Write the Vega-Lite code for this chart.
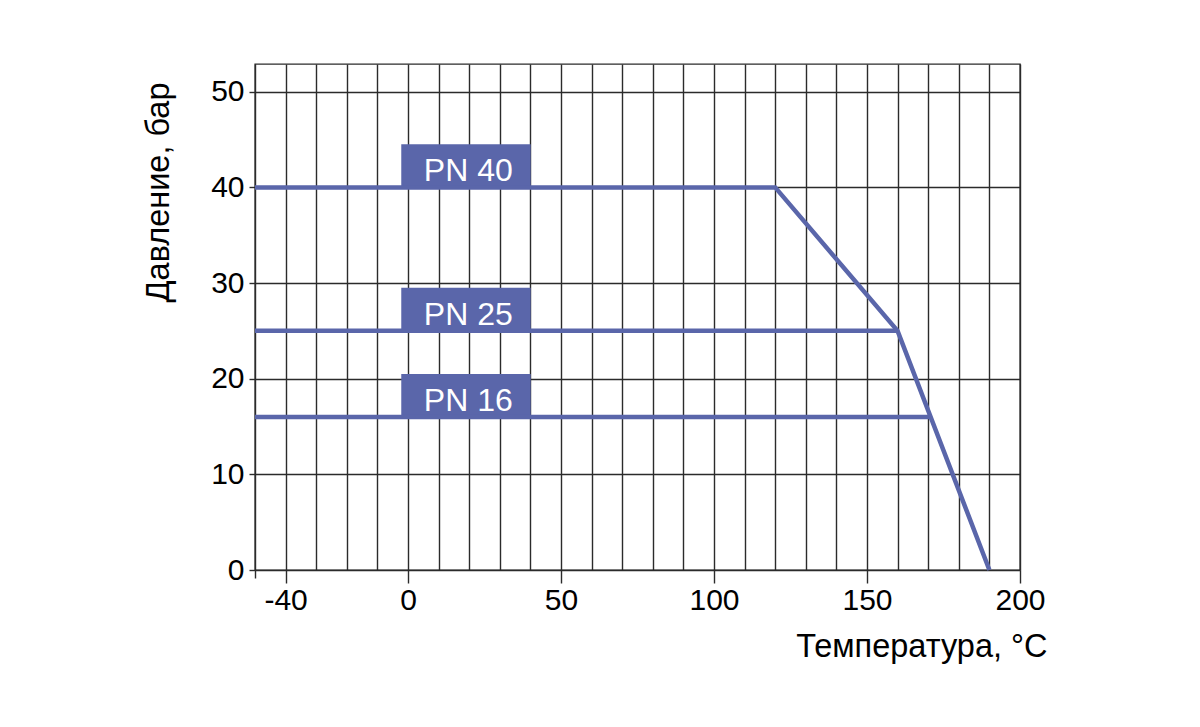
{
  "$schema": "https://vega.github.io/schema/vega-lite/v6.json",
  "width": 765,
  "height": 506,
  "autosize": {"type": "none"},
  "padding": {"left": 255, "top": 64, "right": 180, "bottom": 157},
  "background": "white",
  "config": {
    "view": {"stroke": "#2b2b2b", "strokeWidth": 1.4},
    "font": "Liberation Sans"
  },
  "datasets": {
    "curves": [
      {"series": "PN 40", "i": 0, "t": -50, "p": 40},
      {"series": "PN 40", "i": 1, "t": 120, "p": 40},
      {"series": "PN 40", "i": 2, "t": 160, "p": 25},
      {"series": "PN 40", "i": 3, "t": 190, "p": 0},
      {"series": "PN 25", "i": 0, "t": -50, "p": 25},
      {"series": "PN 25", "i": 1, "t": 160, "p": 25},
      {"series": "PN 16", "i": 0, "t": -50, "p": 16},
      {"series": "PN 16", "i": 1, "t": 170.8, "p": 16}
    ],
    "boxes": [
      {"label": "PN 40", "x0": -2.2, "x1": 40.1, "tx": 19.7, "p": 40, "top": 44.5},
      {"label": "PN 25", "x0": -2.2, "x1": 40.1, "tx": 19.7, "p": 25, "top": 29.5},
      {"label": "PN 16", "x0": -2.2, "x1": 40.1, "tx": 19.7, "p": 16, "top": 20.5}
    ]
  },
  "layer": [
    {
      "data": {"name": "boxes"},
      "mark": {"type": "rect", "color": "#5a66aa"},
      "encoding": {
        "x": {
          "field": "x0", "type": "quantitative", "title": "Температура, °C",
          "scale": {"domain": [-50, 200], "nice": false, "zero": false},
          "axis": {
            "values": [-50, -40, -30, -20, -10, 0, 10, 20, 30, 40, 50, 60, 70, 80, 90, 100, 110, 120, 130, 140, 150, 160, 170, 180, 190, 200],
            "tickCount": 40,
            "grid": true, "gridColor": "#2b2b2b", "gridWidth": 1.4, "gridOpacity": 1,
            "domain": false,
            "tickColor": "#2b2b2b", "tickWidth": 1.4,
            "tickSize": {"condition": {"test": "datum.value === -50", "value": 8}, "value": 13},
            "tickOpacity": {"condition": {"test": "indexof([-50,-40,0,50,100,150,200], datum.value) >= 0", "value": 1}, "value": 0},
            "labelExpr": "indexof([-40,0,50,100,150,200], datum.value) >= 0 ? toString(datum.value) : ''",
            "labelFontSize": 30, "labelColor": "black", "labelPadding": 2,
            "labelFlush": false, "labelOverlap": false,
            "titleFontSize": 32.5, "titleFontWeight": "normal", "titleColor": "black",
            "titleX": 792, "titleY": 86, "titleAlign": "right", "titleBaseline": "alphabetic"
          }
        },
        "x2": {"field": "x1"},
        "y": {
          "field": "p", "type": "quantitative", "title": "Давление, бар",
          "scale": {"domain": [0, 52.9], "nice": false, "zero": true},
          "axis": {
            "values": [0, 10, 20, 30, 40, 50],
            "tickCount": 10,
            "grid": true, "gridColor": "#2b2b2b", "gridWidth": 1.4, "gridOpacity": 1,
            "domain": false,
            "tickColor": "#2b2b2b", "tickWidth": 1.4, "tickSize": 6,
            "labelFontSize": 30, "labelColor": "black", "labelPadding": 5,
            "labelFlush": false, "labelOverlap": false,
            "titleFontSize": 32.5, "titleFontWeight": "normal", "titleColor": "black",
            "titleX": -87, "titleY": 18, "titleAngle": 270, "titleAlign": "right", "titleBaseline": "alphabetic"
          }
        },
        "y2": {"field": "top"}
      }
    },
    {
      "data": {"name": "curves"},
      "mark": {"type": "line", "color": "#5a66aa", "strokeWidth": 4.5, "strokeJoin": "miter"},
      "encoding": {
        "x": {"field": "t", "type": "quantitative", "title": "Температура, °C"},
        "y": {"field": "p", "type": "quantitative", "title": "Давление, бар"},
        "detail": {"field": "series"},
        "order": {"field": "i"}
      }
    },
    {
      "data": {"name": "boxes"},
      "mark": {"type": "text", "color": "white", "fontSize": 32, "dy": -6, "baseline": "alphabetic", "align": "center"},
      "encoding": {
        "x": {"field": "tx", "type": "quantitative", "title": "Температура, °C"},
        "y": {"field": "p", "type": "quantitative", "title": "Давление, бар"},
        "text": {"field": "label"}
      }
    }
  ]
}
